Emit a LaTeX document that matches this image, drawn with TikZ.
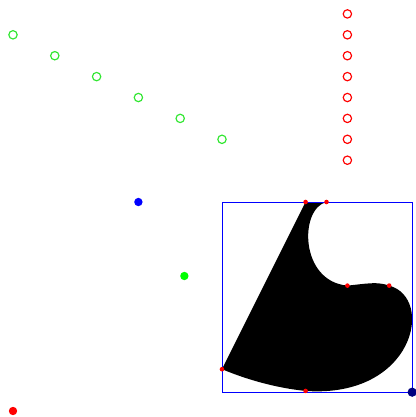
\documentclass[tikz,border=0pt]{standalone}
\begin{document}
\begin{tikzpicture}[
  ring/.style={draw=#1, line width=0.8pt, fill=none},
  bigdot/.style={fill=#1, draw=none},
  cp/.style={fill=red, draw=none}
]
\definecolor{ringgreen}{RGB}{50,230,50}
\useasboundingbox (-0.311,-0.1435) rectangle (9.641,9.833);
% named points
\coordinate (A) at (5,1);
\coordinate (B) at (7,5);
\coordinate (C) at (7.5,5);
\coordinate (D) at (8,3);
\coordinate (E) at (9,3);
\coordinate (F) at (7,0.48);
% shape
\fill[black] (A) -- (B) -- (C)
  .. controls (6.85,4.85) and (6.85,3.1) .. (D)
  .. controls (8.5,3.05) and (8.7,3.1) .. (E)
  .. controls (10.1,2.7) and (9.6,0.3) .. (F)
  .. controls (6.3,0.55) and (5.6,0.75) .. (A) -- cycle;
% bounding box
\draw[blue, line width=0.5pt] (5,0.45) rectangle (9.55,5);
% control dots
\foreach \p in {A,B,C,D,E,F} \fill[cp] (\p) circle (0.055);
\fill[bigdot=blue!50!black] (9.55,0.45) circle (0.11);
% other dots
\fill[bigdot=red] (0,0) circle (0.1);
\fill[bigdot=blue] (3,5) circle (0.1);
\fill[bigdot=green] (4.1,3.23) circle (0.1);
% green rings
\foreach \i in {0,...,5} \draw[ring=ringgreen] (\i,9-0.5*\i) circle (0.1);
% red rings
\foreach \i in {0,...,7} \draw[ring=red] (8,9.5-0.5*\i) circle (0.1);
\end{tikzpicture}
\end{document}
